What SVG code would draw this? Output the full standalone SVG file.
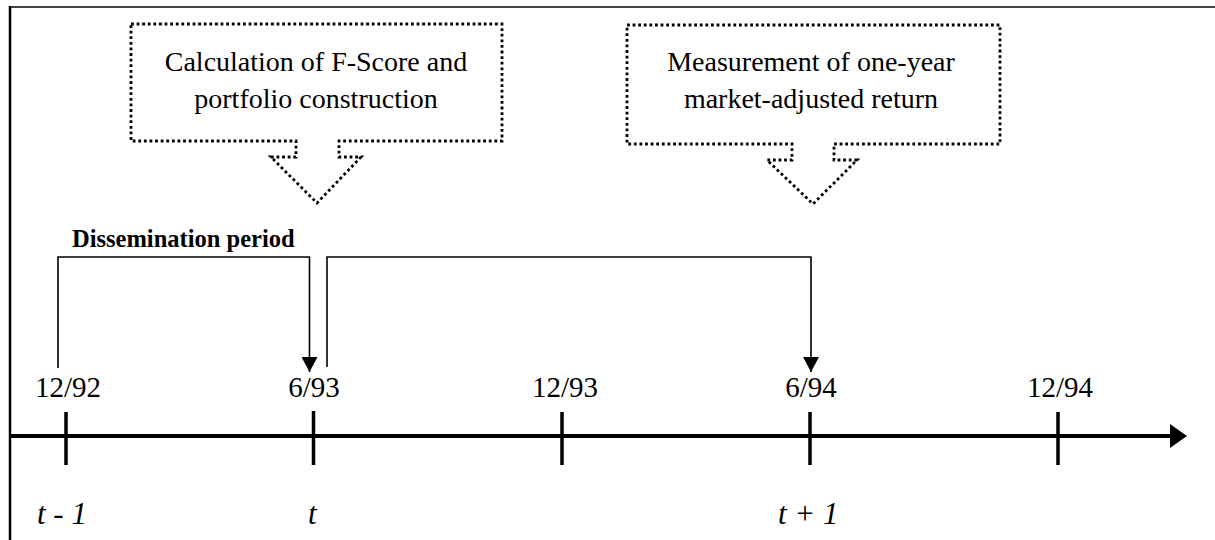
<svg xmlns="http://www.w3.org/2000/svg" width="1215" height="540" viewBox="0 0 1215 540">
<defs>
<style>
.callout{fill:#fff;stroke:#000;stroke-width:2.8;stroke-dasharray:2.8 2.8;stroke-linejoin:miter}
.ctext{font-family:"Liberation Serif","Times New Roman",serif;font-size:28px;fill:#000;text-anchor:middle}
.date{font-family:"Liberation Serif","Times New Roman",serif;font-size:29px;fill:#000;text-anchor:middle}
.per{font-family:"Liberation Serif","Times New Roman",serif;font-size:31px;font-style:italic;fill:#000}
.bold{font-family:"Liberation Serif","Times New Roman",serif;font-size:24.5px;font-weight:bold;fill:#000}
.br{stroke:#000;stroke-width:1.6;fill:none}
.axis{stroke:#000;stroke-width:4;fill:none}
.tick{stroke:#000;stroke-width:3.5}
</style>
<marker id="ah" viewBox="0 0 15 16" refX="15" refY="8" markerWidth="15" markerHeight="16" markerUnits="userSpaceOnUse" orient="auto">
<path d="M0,0 L15,8 L0,16 Z" fill="#000"/>
</marker>
</defs>
<rect width="1215" height="540" fill="#fff"/>
<g id="frame">
<line x1="9" y1="7" x2="1215" y2="7" stroke="#444" stroke-width="2"/>
<line x1="10" y1="6" x2="10" y2="540" stroke="#000" stroke-width="2.5"/>
</g>
<g id="callout1">
<path class="callout" d="M131,24 L502,24 L502,141 L339,141 L339,157 L361,157 L317,203 L271,157 L296,157 L296,141 L131,141 Z"/>
<text class="ctext" x="316" y="71">Calculation of F-Score and</text>
<text class="ctext" x="316" y="108">portfolio construction</text>
</g>
<g id="callout2">
<path class="callout" d="M627,25 L1000,25 L1000,144 L834,144 L834,160 L857,160 L813,204 L767,160 L792,160 L792,144 L627,144 Z"/>
<text class="ctext" x="811" y="71">Measurement of one-year</text>
<text class="ctext" x="811" y="108">market-adjusted return</text>
</g>
<g id="dissemination-label">
<text class="bold" x="72" y="247">Dissemination period</text>
</g>
<g id="timeline">
<line class="axis" x1="10" y1="436" x2="1172" y2="436"/>
<path d="M1170,424 L1187,436 L1170,448 Z" fill="#000"/>
<line class="tick" x1="66" y1="412" x2="66" y2="465"/>
<line class="tick" x1="313.5" y1="411" x2="313.5" y2="465"/>
<line class="tick" x1="562" y1="412" x2="562" y2="465"/>
<line class="tick" x1="810" y1="412" x2="810" y2="465"/>
<line class="tick" x1="1058" y1="412" x2="1058" y2="465"/>
</g>
<g id="labels">
<text class="date" x="68" y="397">12/92</text>
<text class="date" x="314" y="397">6/93</text>
<text class="date" x="565" y="397">12/93</text>
<text class="date" x="811" y="397">6/94</text>
<text class="date" x="1060" y="397">12/94</text>
<text class="per" x="37" y="524">t - 1</text>
<text class="per" x="308" y="524">t</text>
<text class="per" x="778" y="524">t + 1</text>
</g>
<g id="connectors">
<path class="br" d="M58,368 L58,257 L309.5,257 L309.5,372" marker-end="url(#ah)"/>
<path class="br" d="M327,367 L327,257 L811,257 L811,372" marker-end="url(#ah)"/>
</g>
</svg>
